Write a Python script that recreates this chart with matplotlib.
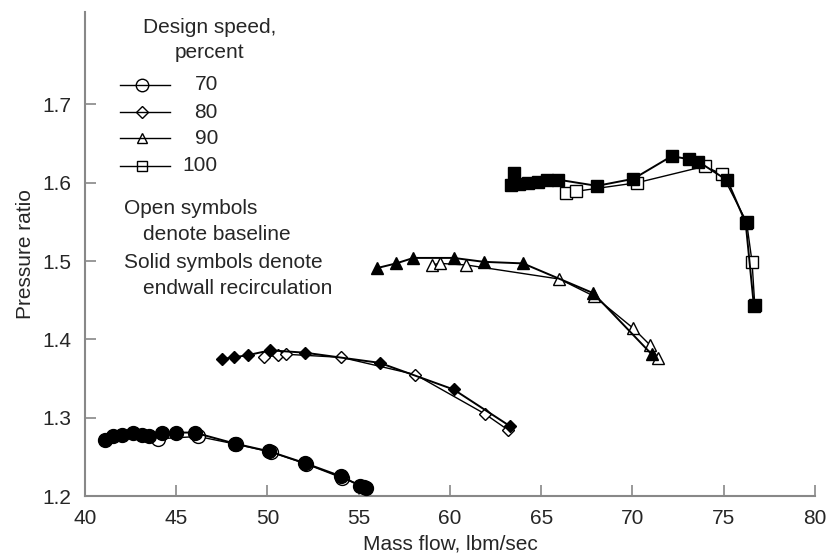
import matplotlib.pyplot as plt
from matplotlib.lines import Line2D

plt.rcParams["font.family"] = ["Liberation Sans", "DejaVu Sans"]

# 70 percent speed
flow_70_base = [44.0, 46.2, 48.3, 50.2, 52.1, 54.1, 55.3]
pr_70_base = [1.273, 1.276, 1.266, 1.256, 1.241, 1.223, 1.212]
flow_70_recirc = [41.1, 41.55, 42.0, 42.65, 43.1, 43.5, 44.2, 45.0, 46.0, 48.2, 50.1, 52.05, 54.05, 55.07, 55.4]
pr_70_recirc = [1.272, 1.277, 1.278, 1.280, 1.278, 1.276, 1.281, 1.281, 1.281, 1.267, 1.257, 1.242, 1.225, 1.213, 1.210]

# 80 percent speed
flow_80_base = [49.8, 50.6, 51.0, 54.05, 58.1, 61.9, 63.2]
pr_80_base = [1.377, 1.380, 1.381, 1.377, 1.355, 1.305, 1.284]
flow_80_recirc = [47.5, 48.15, 48.95, 50.15, 52.05, 56.15, 60.2, 63.3]
pr_80_recirc = [1.375, 1.377, 1.380, 1.386, 1.383, 1.370, 1.336, 1.289]

# 90 percent speed
flow_90_base = [59.0, 59.45, 60.9, 66.0, 67.9, 70.05, 70.95, 71.4]
pr_90_base = [1.495, 1.497, 1.495, 1.477, 1.455, 1.414, 1.393, 1.376]
flow_90_recirc = [56.0, 57.05, 58.0, 60.2, 61.85, 64.0, 67.85, 71.05]
pr_90_recirc = [1.491, 1.497, 1.504, 1.504, 1.499, 1.497, 1.459, 1.381]

# 100 percent speed
flow_100_base = [66.35, 66.9, 70.25, 73.95, 74.9, 76.25, 76.55, 76.7]
pr_100_base = [1.587, 1.589, 1.600, 1.621, 1.611, 1.550, 1.499, 1.444]
flow_100_recirc = [63.5, 63.35, 63.8, 64.3, 64.8, 65.3, 65.9, 68.05, 70.05, 72.15, 73.1, 73.6, 75.2, 76.2, 76.65]
pr_100_recirc = [1.612, 1.597, 1.598, 1.600, 1.601, 1.603, 1.604, 1.596, 1.605, 1.634, 1.630, 1.627, 1.603, 1.549, 1.443]

speeds = ["70", "80", "90", "100"]
markers = ["o", "D", "^", "s"]
sizes = [10, 6.5, 8.5, 8.5]

base = [(flow_70_base, pr_70_base), (flow_80_base, pr_80_base),
        (flow_90_base, pr_90_base), (flow_100_base, pr_100_base)]
recirc = [(flow_70_recirc, pr_70_recirc), (flow_80_recirc, pr_80_recirc),
          (flow_90_recirc, pr_90_recirc), (flow_100_recirc, pr_100_recirc)]

txt = "#262626"
fs = 15

fig = plt.figure(figsize=(8.29, 5.56), dpi=100)
ax = fig.add_axes([85 / 829, 60 / 556, 730 / 829, 484 / 556])

for i in range(4):
    x, y = base[i]
    ax.plot(x, y, color="black", lw=1.0, marker=markers[i], ms=sizes[i],
            mfc="white", mec="black", mew=1.0, zorder=2)
    x, y = recirc[i]
    ax.plot(x, y, color="black", lw=1.4, marker=markers[i], ms=sizes[i],
            mfc="black", mec="black", zorder=3)

ax.set_xlim(40, 80)
ax.set_ylim(1.2, 1.818)
ax.set_xticks(range(40, 81, 5))
ax.set_yticks([1.2, 1.3, 1.4, 1.5, 1.6, 1.7])
ax.set_yticklabels(["1.2", "1.3", "1.4", "1.5", "1.6", "1.7"])
ax.spines["top"].set_visible(False)
ax.spines["right"].set_visible(False)
for s in ["left", "bottom"]:
    ax.spines[s].set_color("#888888")
    ax.spines[s].set_linewidth(1.5)
ax.tick_params(direction="in", length=8, width=1.2, color="#888888",
               labelsize=fs, labelcolor=txt)
ax.tick_params(axis="x", pad=9)
ax.tick_params(axis="y", pad=10)
ax.set_xlabel("Mass flow, lbm/sec", fontsize=fs, color=txt, labelpad=5)
ax.set_ylabel("Pressure ratio", fontsize=fs, color=txt, labelpad=5)


# legend drawn by hand, positions in pixels of the figure
def fx(px):
    return px / 829


def fy(py):
    return 1 - py / 556


fig.text(fx(210), fy(40), "Design speed,\npercent", ha="center", va="center",
         fontsize=fs, color=txt, linespacing=1.35)
rows = [85, 112, 138, 166]
for i in range(4):
    fig.add_artist(Line2D([fx(120), fx(170)], [fy(rows[i]), fy(rows[i])],
                          color="black", lw=1.0))
    fig.add_artist(Line2D([fx(142)], [fy(rows[i])], marker=markers[i],
                          ms=sizes[i] * 0.9, mfc="none", mec="black", mew=1.0))
    fig.text(fx(218), fy(rows[i]), speeds[i], ha="right", va="center",
             fontsize=fs, color=txt)

fig.text(fx(124), fy(208), "Open symbols", ha="left", va="center", fontsize=fs, color=txt)
fig.text(fx(143), fy(235), "denote baseline", ha="left", va="center", fontsize=fs, color=txt)
fig.text(fx(124), fy(262), "Solid symbols denote", ha="left", va="center", fontsize=fs, color=txt)
fig.text(fx(143), fy(288), "endwall recirculation", ha="left", va="center", fontsize=fs, color=txt)

plt.savefig("out.png", dpi=100)
